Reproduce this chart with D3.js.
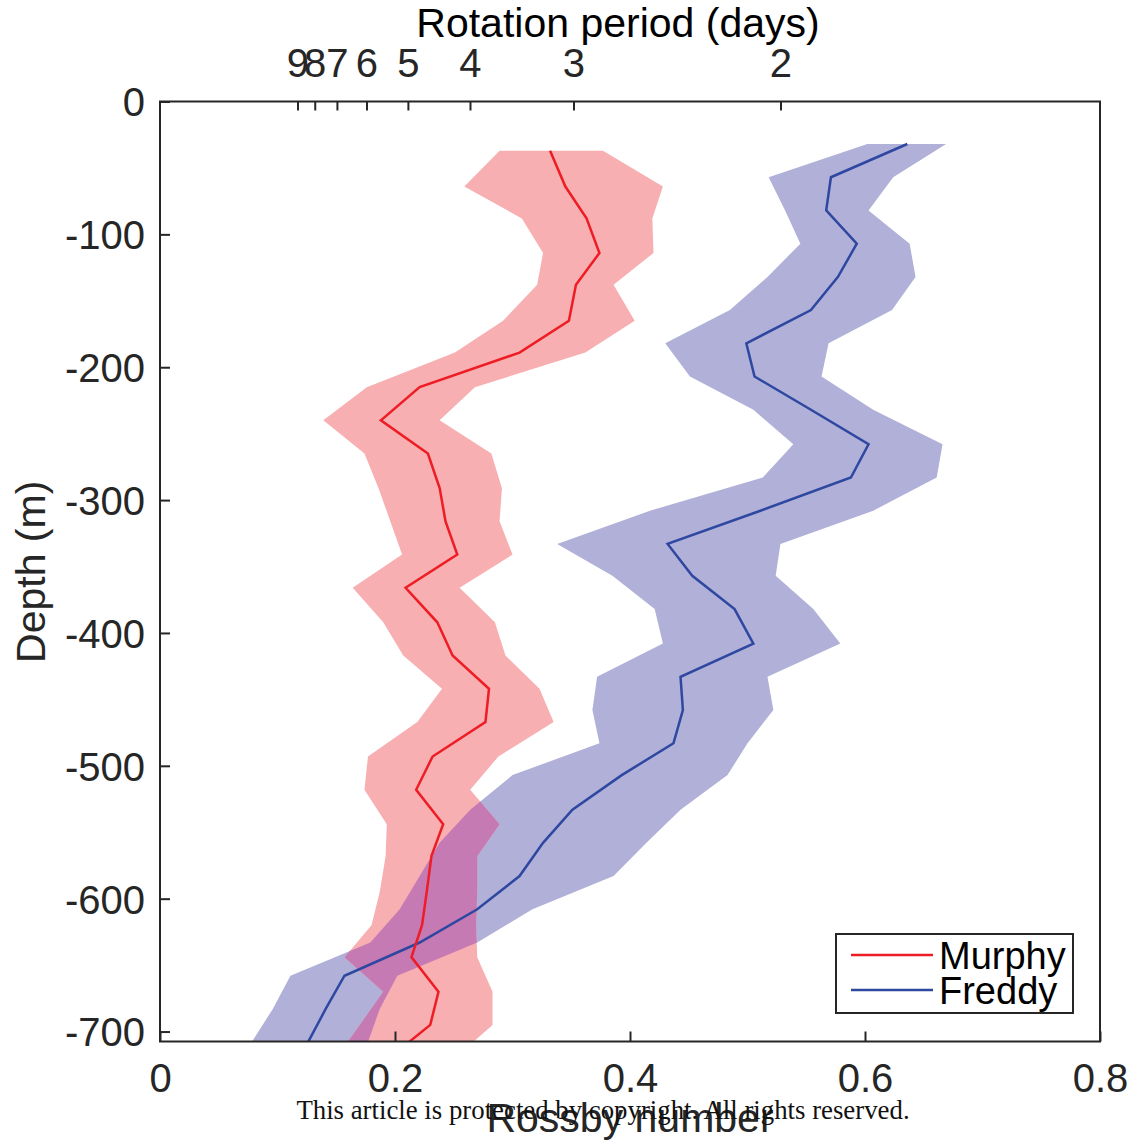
<!DOCTYPE html>
<html>
<head>
<meta charset="utf-8">
<script src="https://cdn.jsdelivr.net/npm/d3@7"></script>
<style>
  body { margin: 0; background: #fff; }
  text { font-family: "Liberation Sans", Arial, Helvetica, sans-serif; }
</style>
</head>
<body>
<div id="chart"></div>
<script>
// depth (m) and Rossby number
let redDepth = [37, 64, 88, 114, 138, 165, 189, 215, 240, 265, 291, 316, 341, 366, 392, 417, 442, 467, 493, 518, 544, 568, 595, 620, 644, 670, 695, 720];
let redMean = [0.332, 0.345, 0.363, 0.374, 0.354, 0.348, 0.306, 0.221, 0.188, 0.228, 0.238, 0.243, 0.253, 0.209, 0.236, 0.249, 0.280, 0.277, 0.232, 0.218, 0.241, 0.231, 0.227, 0.223, 0.214, 0.237, 0.230, 0.195];
let redLow = [0.289, 0.259, 0.308, 0.326, 0.321, 0.292, 0.251, 0.176, 0.139, 0.174, 0.186, 0.196, 0.206, 0.164, 0.190, 0.207, 0.240, 0.219, 0.177, 0.174, 0.193, 0.192, 0.187, 0.180, 0.157, 0.190, 0.170, 0.150];
let redHigh = [0.377, 0.428, 0.419, 0.420, 0.386, 0.404, 0.362, 0.268, 0.238, 0.282, 0.291, 0.289, 0.300, 0.255, 0.285, 0.294, 0.323, 0.335, 0.288, 0.264, 0.289, 0.270, 0.270, 0.269, 0.270, 0.283, 0.283, 0.251];

let blueDepth = [32, 57, 82, 107, 132, 157, 182, 207, 232, 258, 283, 308, 333, 357, 382, 408, 433, 458, 483, 507, 533, 558, 583, 608, 633, 658, 683, 708];
let blueMean = [0.636, 0.571, 0.567, 0.593, 0.577, 0.554, 0.499, 0.506, 0.554, 0.603, 0.588, 0.511, 0.432, 0.453, 0.489, 0.505, 0.443, 0.445, 0.437, 0.393, 0.351, 0.326, 0.306, 0.270, 0.221, 0.157, 0.141, 0.126];
let blueLow = [0.602, 0.518, 0.532, 0.545, 0.517, 0.485, 0.430, 0.451, 0.505, 0.539, 0.513, 0.417, 0.338, 0.385, 0.421, 0.428, 0.372, 0.368, 0.374, 0.300, 0.264, 0.238, 0.221, 0.204, 0.179, 0.111, 0.096, 0.078];
let blueHigh = [0.669, 0.624, 0.603, 0.638, 0.643, 0.623, 0.569, 0.563, 0.607, 0.666, 0.661, 0.607, 0.528, 0.524, 0.556, 0.579, 0.517, 0.522, 0.500, 0.483, 0.443, 0.414, 0.386, 0.317, 0.270, 0.202, 0.187, 0.177];

let rossbyTicks = [0, 0.2, 0.4, 0.6, 0.8];
let depthTicks = [0, -100, -200, -300, -400, -500, -600, -700];
let periodTicks = [2, 3, 4, 5, 6, 7, 8, 9];
let rotK = 1.057; // Ro = rotK / period(days)

let seriesNames = ["Murphy", "Freddy"];

let w = 1133,
    h = 1140;

let margin = { top: 101.5, left: 160, right: 33, bottom: 98.5 };
let width = w - margin.left - margin.right;
let height = h - margin.top - margin.bottom;

let axisColor = "#262626";
let redLine = "#ee1c24",
    blueLine = "#2e47a0",
    redFill = "#f7afb1",
    blueFill = "#b1b0d8",
    bothFill = "#c67ab3";

let svg = d3.select("#chart")
            .append("svg")
            .attr("width", w)
            .attr("height", h)
            .style("background", "#fff");

let x = d3.scaleLinear().domain([0, 0.8]).range([0, width]);
let y = d3.scaleLinear().domain([0, -707.5]).range([0, height]);

function rows(depth, mean, low, high) {
  return depth.map((d, i) => ({ depth: -d, mean: mean[i], low: low[i], high: high[i] }));
}

let red = rows(redDepth, redMean, redLow, redHigh);
let blue = rows(blueDepth, blueMean, blueLow, blueHigh);

let band = d3.area()
             .y(d => y(d.depth))
             .x0(d => x(d.low))
             .x1(d => x(d.high));

let line = d3.line()
             .x(d => x(d.mean))
             .y(d => y(d.depth));

let defs = svg.append("defs");
defs.append("clipPath")
    .attr("id", "plot-clip")
    .append("rect")
    .attr("width", width)
    .attr("height", height);

// blue band shape, used to paint where the two bands overlap
defs.append("clipPath")
    .attr("id", "blue-clip")
    .append("path")
    .attr("d", band(blue));

let g = svg.append("g")
           .attr("transform", "translate(" + margin.left + "," + margin.top + ")");

let plot = g.append("g").attr("clip-path", "url(#plot-clip)");

plot.append("path")
    .datum(blue)
    .attr("d", band)
    .attr("fill", blueFill);

plot.append("path")
    .datum(red)
    .attr("d", band)
    .attr("fill", redFill);

plot.append("g")
    .attr("clip-path", "url(#blue-clip)")
    .append("path")
    .datum(red)
    .attr("d", band)
    .attr("fill", bothFill);

plot.append("path")
    .datum(blue)
    .attr("d", line)
    .attr("fill", "none")
    .attr("stroke", blueLine)
    .attr("stroke-width", 2.5);

plot.append("path")
    .datum(red)
    .attr("d", line)
    .attr("fill", "none")
    .attr("stroke", redLine)
    .attr("stroke-width", 2.5);

// box
g.append("rect")
 .attr("width", width)
 .attr("height", height)
 .attr("fill", "none")
 .attr("stroke", axisColor)
 .attr("stroke-width", 2);

// bottom axis (ticks pointing in)
let xAxis = d3.axisBottom(x)
              .tickValues(rossbyTicks)
              .tickFormat(d => d === 0 ? "0" : d3.format(".1f")(d))
              .tickSizeInner(-10)
              .tickSizeOuter(0)
              .tickPadding(22);

g.append("g")
 .attr("transform", "translate(0," + height + ")")
 .call(xAxis)
 .call(a => a.select(".domain").remove())
 .call(a => a.selectAll("line").attr("stroke", axisColor).attr("stroke-width", 2))
 .call(a => a.selectAll("text").attr("fill", axisColor).style("font-size", "40px")
             .attr("font-family", null).attr("dy", "0.72em"));

let yAxis = d3.axisLeft(y)
              .tickValues(depthTicks)
              .tickFormat(d => String(d))
              .tickSizeInner(-10)
              .tickSizeOuter(0)
              .tickPadding(15);

g.append("g")
 .call(yAxis)
 .call(a => a.select(".domain").remove())
 .call(a => a.selectAll("line").attr("stroke", axisColor).attr("stroke-width", 2))
 .call(a => a.selectAll("text").attr("fill", axisColor).style("font-size", "40px")
             .attr("font-family", null).attr("dy", "0.36em"));

// top axis: rotation period
let topAxis = g.append("g");
let periodX = p => x(rotK / p);

topAxis.selectAll("line")
       .data(periodTicks)
       .enter()
       .append("line")
       .attr("x1", periodX)
       .attr("x2", periodX)
       .attr("y1", 0)
       .attr("y2", 9)
       .attr("stroke", axisColor)
       .attr("stroke-width", 2);

topAxis.selectAll("text")
       .data(periodTicks)
       .enter()
       .append("text")
       .attr("x", periodX)
       .attr("y", -25)
       .attr("text-anchor", "middle")
       .attr("fill", axisColor)
       .style("font-size", "40px")
       .text(d => d);

// axis titles
svg.append("text")
   .attr("x", margin.left + x(0.4) - 12)
   .attr("y", 37)
   .attr("text-anchor", "middle")
   .attr("fill", "#000")
   .style("font-size", "41px")
   .text("Rotation period (days)");

svg.append("text")
   .attr("transform", "translate(45," + (margin.top + y(-354)) + ") rotate(-90)")
   .attr("text-anchor", "middle")
   .attr("fill", axisColor)
   .style("font-size", "41px")
   .text("Depth (m)");

svg.append("text")
   .attr("x", margin.left + x(0.4))
   .attr("y", 1132)
   .attr("text-anchor", "middle")
   .attr("fill", axisColor)
   .style("font-size", "41px")
   .text("Rossby number");

// legend
let legend = svg.append("g").attr("transform", "translate(836,934)");
legend.append("rect")
      .attr("width", 237)
      .attr("height", 79)
      .attr("fill", "#fff")
      .attr("stroke", axisColor)
      .attr("stroke-width", 2);

let legendColors = [redLine, blueLine];
seriesNames.forEach((name, i) => {
  legend.append("line")
        .attr("x1", 15)
        .attr("x2", 97)
        .attr("y1", 21 + i * 35)
        .attr("y2", 21 + i * 35)
        .attr("stroke", legendColors[i])
        .attr("stroke-width", 2.5);
  legend.append("text")
        .attr("x", 103)
        .attr("y", 35 + i * 35)
        .attr("fill", "#000")
        .style("font-size", "38px")
        .text(name);
});

// watermark
svg.append("text")
   .attr("x", 603)
   .attr("y", 1119)
   .attr("text-anchor", "middle")
   .attr("fill", "#111")
   .style("font-family", "'Liberation Serif', 'Times New Roman', serif")
   .style("font-size", "26.8px")
   .text("This article is protected by copyright. All rights reserved.");
</script>
</body>
</html>
